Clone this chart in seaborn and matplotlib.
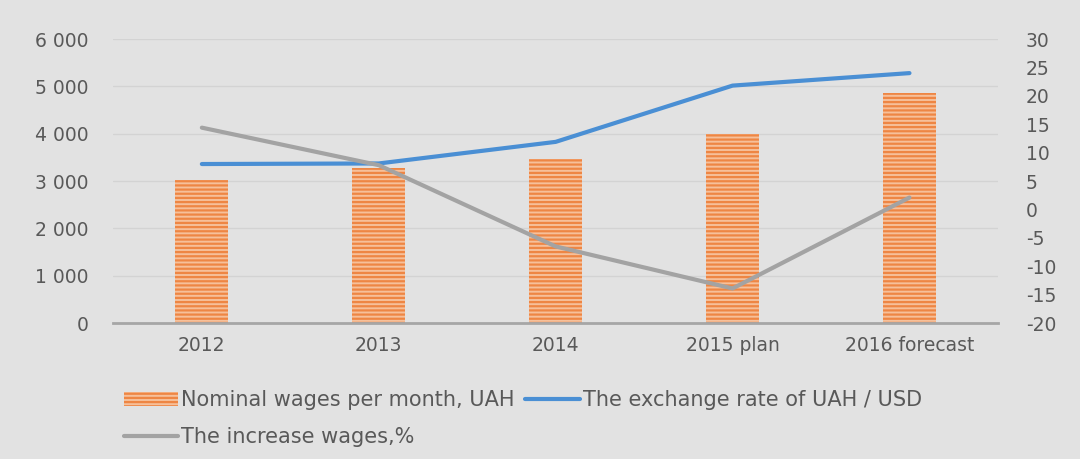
import numpy as np
import pandas as pd
import matplotlib
matplotlib.use("Agg")
import matplotlib.pyplot as plt
from matplotlib.patches import Patch
from matplotlib.lines import Line2D
from matplotlib.ticker import FuncFormatter
import seaborn as sns

years = ["2012", "2013", "2014", "2015 plan", "2016 forecast"]
wages = [3025, 3270, 3470, 4000, 4865]
exchange_rate = [8.0, 8.1, 11.9, 21.8, 24.0]
wage_increase = [14.4, 7.8, -6.5, -13.9, 2.1]

bg = "#e2e2e2"
txt = "#595959"

sns.set_theme(style="white")
plt.rcParams["font.family"] = ["DejaVu Sans"]
plt.rcParams["axes.unicode_minus"] = False
plt.rcParams["hatch.linewidth"] = 1.6

df = pd.DataFrame({"year": years, "wages": wages,
                   "rate": exchange_rate, "inc": wage_increase})
df["pos"] = np.arange(len(df))

fig = plt.figure(figsize=(10.8, 4.59), dpi=100, facecolor=bg)
ax = fig.add_axes([0.105, 0.296, 0.819, 0.619])
ax.set_facecolor(bg)

sns.barplot(data=df, x="year", y="wages", ax=ax, width=0.3, color="#f6c09a",
            saturation=1)
for p in ax.patches:
    p.set_hatch("----")
    p.set_edgecolor("#ee8644")
    p.set_linewidth(0)

ax.set_ylim(0, 6000)
ax.set_yticks(range(0, 6001, 1000))
ax.yaxis.set_major_formatter(FuncFormatter(lambda v, _: f"{int(v):,}".replace(",", " ")))
ax.grid(axis="y", color="#d3d3d3", linewidth=1)
ax.set_axisbelow(True)
ax.set_xlabel("")
ax.set_ylabel("")
for s in ["top", "right", "left"]:
    ax.spines[s].set_visible(False)
ax.spines["bottom"].set_color("#a6a6a6")
ax.spines["bottom"].set_linewidth(2)
ax.tick_params(axis="both", length=0, labelsize=13.5, colors=txt)
ax.tick_params(axis="x", pad=9)
ax.tick_params(axis="y", pad=18)

ax2 = ax.twinx()
sns.lineplot(data=df, x="pos", y="rate", ax=ax2, color="#4a8fd4", linewidth=3)
sns.lineplot(data=df, x="pos", y="inc", ax=ax2, color="#a3a3a3", linewidth=3)
ax2.set_ylim(-20, 30)
ax2.set_yticks(range(-20, 31, 5))
ax2.yaxis.set_major_formatter(FuncFormatter(lambda v, _: str(int(v))))
ax2.set_xlim(-0.5, len(years) - 0.5)
ax.set_xlim(-0.5, len(years) - 0.5)
ax2.set_ylabel("")
ax2.set_xlabel("")
for s in ax2.spines.values():
    s.set_visible(False)
ax2.tick_params(axis="y", length=0, labelsize=13.5, colors=txt, pad=20)
ax2.grid(False)

handles = [
    Patch(facecolor="#f6c09a", edgecolor="#ee8644", hatch="----", linewidth=0),
    Line2D([0], [0], color="#a3a3a3", linewidth=3),
    Line2D([0], [0], color="#4a8fd4", linewidth=3),
]
labels = ["Nominal wages per month, UAH", "The increase wages,%",
          "The exchange rate of UAH / USD"]
fig.legend(handles, labels, ncol=2, loc="upper left", bbox_to_anchor=(0.115, 0.150),
           frameon=False, fontsize=15, labelcolor=txt, handlelength=2.6,
           handleheight=0.7, handletextpad=0.15, columnspacing=0.5,
           labelspacing=0.8, borderaxespad=0, borderpad=0)

fig.savefig("out.png", dpi=100, facecolor=bg)
